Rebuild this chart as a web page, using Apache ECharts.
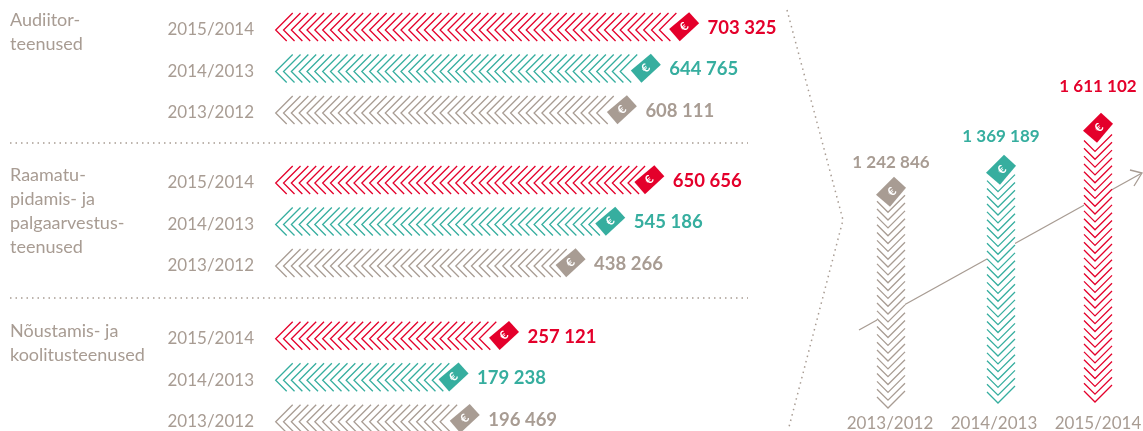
<!DOCTYPE html>
<html>
<head>
<meta charset="utf-8">
<style>html,body{margin:0;padding:0;background:#fff}#c{width:1143px;height:431px}</style>
<script src="https://cdn.jsdelivr.net/npm/echarts@6/dist/echarts.min.js"></script>
</head>
<body>
<div id="c"></div>
<script>
var periods = ['2015/2014', '2014/2013', '2013/2012'];
var auditValues = [703325, 644765, 608111];
var accountingValues = [650656, 545186, 438266];
var consultingValues = [257121, 179238, 196469];
var totalPeriods = ['2013/2012', '2014/2013', '2015/2014'];
var totalValues = [1242846, 1369189, 1611102];
var groupLabels = ['Audiitor-\nteenused', 'Raamatu-\npidamis- ja\npalgaarvestus-\nteenused', 'Nõustamis- ja\nkoolitusteenused'];

var RED = '#e4002b', TEAL = '#36ae9f', GREY = '#a89c93', TXT = '#a89c93';
var FONT = 'Lato';
var periodColor = { '2015/2014': RED, '2014/2013': TEAL, '2013/2012': GREY };

function fmt(v) { return String(v).replace(/\B(?=(\d{3})+$)/g, ' '); }

function euro(x, y, rot) {
  return { type: 'text', x: x, y: y, rotation: rot, z2: 5,
    style: { text: '€', fill: '#fff', font: 'bold 12px ' + FONT, align: 'center', verticalAlign: 'middle' } };
}

function horizontalBar(params, api) {
  var v = api.value(0), cat = api.value(1);
  var p = api.coord([v, cat]);
  var tipX = p[0], y = p[1], startX = params.coordSys.x + 1.7;
  var color = periodColor[periods[cat]];
  var kids = [];
  for (var x = startX; x <= tipX - 35; x += 7.83) {
    kids.push({ type: 'polyline', shape: { points: [[x + 17, y - 17], [x, y], [x + 11, y + 11]] },
      style: { stroke: color, lineWidth: 1.3, fill: null } });
  }
  kids.push({ type: 'polygon', z2: 4, shape: { points: [[tipX - 10, y - 17.7], [tipX, y - 6.7], [tipX - 19.4, y + 11.3], [tipX - 30, y - 1]] },
    style: { fill: color } });
  kids.push(euro(tipX - 15, y - 3.2, Math.PI / 4));
  kids.push({ type: 'text', x: tipX + 8.5, y: y - 2,
    style: { text: fmt(v), fill: color, font: 'bold 18.5px ' + FONT, align: 'left', verticalAlign: 'middle' } });
  return { type: 'group', children: kids };
}

var barShift = [1, 7, 0];
var bottomShift = [5, 0, -1];
var labelGap = [14, 18, 26];

function verticalBar(params, api) {
  var cat = api.value(0), v = api.value(1);
  var p = api.coord([cat, v]);
  var cx = p[0] + barShift[cat], topY = p[1];
  var bottom = params.coordSys.y + params.coordSys.height + bottomShift[cat];
  var color = periodColor[totalPeriods[cat]];
  var kids = [{ type: 'rect', shape: { x: cx - 14, y: topY, width: 28, height: bottom - topY }, style: { fill: '#fff' } }];
  for (var y = bottom; y >= topY + 33; y -= 7.83) {
    kids.push({ type: 'polyline', shape: { points: [[cx - 14, y - 11], [cx - 3, y], [cx + 14, y - 17]] },
      style: { stroke: color, lineWidth: 1.3, fill: null } });
  }
  kids.push({ type: 'polygon', z2: 4, shape: { points: [[cx + 3, topY], [cx + 15, topY + 11], [cx - 1, topY + 30], [cx - 15, topY + 18]] },
    style: { fill: color } });
  kids.push(euro(cx + 1, topY + 15, Math.PI / 4));
  kids.push({ type: 'text', x: cx, y: topY - labelGap[cat],
    style: { text: fmt(v), fill: color, font: 'bold 17px ' + FONT, align: 'center', verticalAlign: 'middle' } });
  return { type: 'group', children: kids };
}

var groupTops = [9.25, 162.25, 318];
var groupValues = [auditValues, accountingValues, consultingValues];
var groupMins = [53000, -402000, -121000];
var groupMaxs = [850000, 1003000, 683000];
var grids = [], xAxes = [], yAxes = [], series = [];
groupValues.forEach(function (vals, i) {
  grids.push({ left: 274, top: groupTops[i], width: 521, height: 124.5, outerBoundsMode: 'none' });
  xAxes.push({ gridIndex: i, type: 'value', min: groupMins[i], max: groupMaxs[i], show: false });
  yAxes.push({ gridIndex: i, type: 'category', data: periods, inverse: true,
    axisLine: { show: false }, axisTick: { show: false }, splitLine: { show: false },
    axisLabel: { color: TXT, fontFamily: FONT, fontSize: 17, margin: 20, interval: 0 } });
  series.push({ type: 'custom', xAxisIndex: i, yAxisIndex: i, z: 3, clip: false,
    renderItem: horizontalBar, encode: { x: 0, y: 1 },
    data: vals.map(function (v, k) { return [v, k]; }) });
});
grids.push({ left: 838, top: 60, width: 312, height: 343, outerBoundsMode: 'none' });
xAxes.push({ gridIndex: 3, type: 'category', data: totalPeriods,
  axisLine: { show: false }, axisTick: { show: false }, splitLine: { show: false },
  axisLabel: { color: TXT, fontFamily: FONT, fontSize: 17, margin: 12, interval: 0 } });
yAxes.push({ gridIndex: 3, type: 'value', min: -60000, max: 1915000, show: false });
series.push({ type: 'custom', xAxisIndex: 3, yAxisIndex: 3, z: 3, clip: false,
  renderItem: verticalBar, encode: { x: 0, y: 1 },
  data: totalValues.map(function (v, k) { return [k, v]; }) });

var dotted = { stroke: GREY, lineWidth: 1.5, lineDash: [1.5, 4], fill: null };
var graphics = [
  { type: 'line', z: 0, shape: { x1: 10, y1: 143, x2: 748, y2: 143 }, style: dotted },
  { type: 'line', z: 0, shape: { x1: 10, y1: 298, x2: 748, y2: 298 }, style: dotted },
  { type: 'polyline', z: 0, shape: { points: [[787, 10], [843, 220], [789, 427]] }, style: dotted },
  { type: 'polyline', z: 0, shape: { points: [[859, 330], [1142, 173]] }, style: { stroke: GREY, lineWidth: 1.3, fill: null } },
  { type: 'polyline', z: 0, shape: { points: [[1130, 170], [1142, 173], [1134, 186]] }, style: { stroke: GREY, lineWidth: 1.3, fill: null } }
];
var labelTops = [8, 163, 319];
groupLabels.forEach(function (t, i) {
  graphics.push({ type: 'text', left: 10, top: labelTops[i], z: 1,
    style: { text: t, fill: TXT, font: '18px ' + FONT, lineHeight: 24 } });
});

var chart = echarts.init(document.getElementById('c'), null, { renderer: 'canvas' });
chart.setOption({
  animation: false,
  backgroundColor: '#fff',
  grid: grids, xAxis: xAxes, yAxis: yAxes, series: series, graphic: graphics
});
</script>
</body>
</html>
